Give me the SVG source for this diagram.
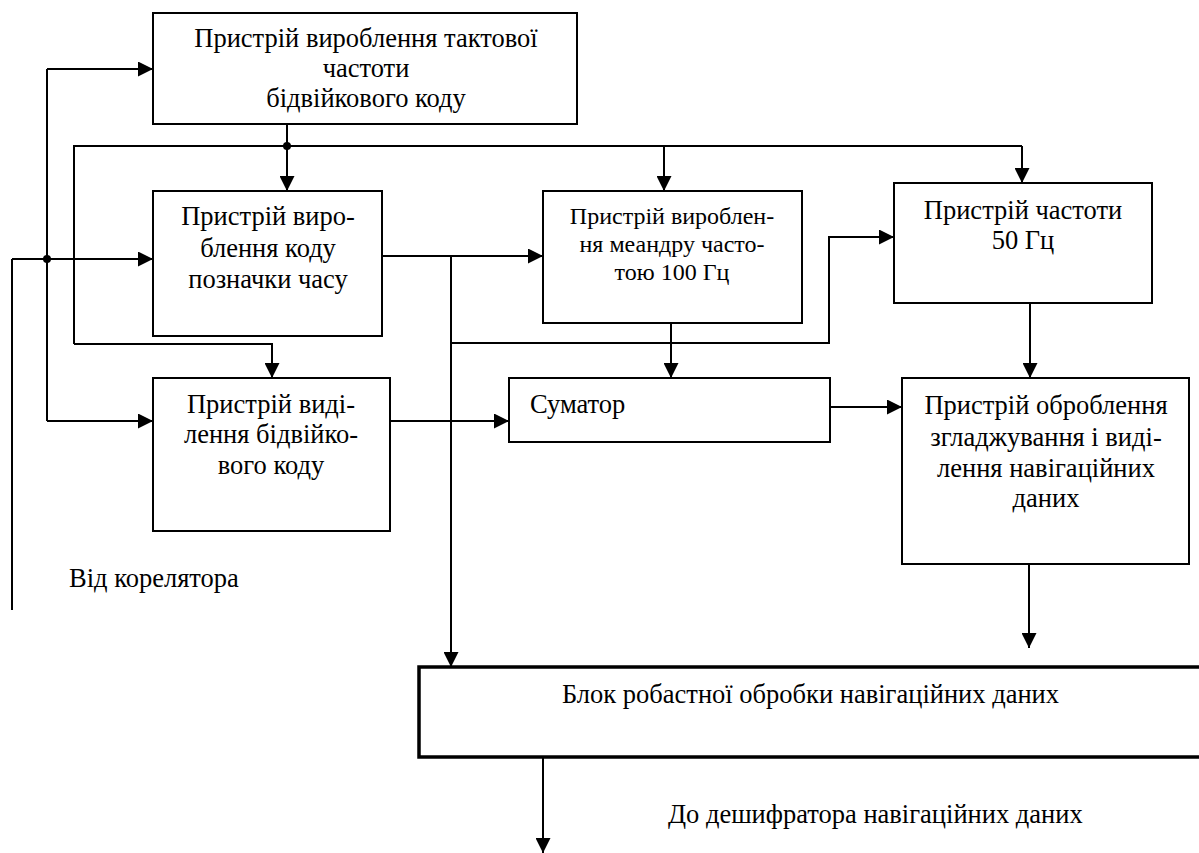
<svg xmlns="http://www.w3.org/2000/svg" width="1199" height="853" viewBox="0 0 1199 853">
<style>
.box{fill:#fff;stroke:#000;stroke-width:2}
.thick{fill:#fff;stroke:#000;stroke-width:3.5}
.t{font-family:"Liberation Serif","Times New Roman",serif;font-size:26.5px;fill:#000}
.s{font-size:24px}
.c{text-anchor:middle}
.ln{fill:none;stroke:#000;stroke-width:2}
.ar{marker-end:url(#ah)}
</style>
<defs>
<marker id="ah" viewBox="0 0 16 16" refX="16" refY="8" markerWidth="16" markerHeight="15" orient="auto" markerUnits="userSpaceOnUse">
<path d="M0,0 L16,8 L0,16 Z" fill="#000"/>
</marker>
</defs>
<rect width="1199" height="853" fill="#fff"/>
<g id="connectors">
<path class="ln" d="M12,610 V259"/>
<path class="ln ar" d="M12,259 H153"/>
<path class="ln" d="M47,69 V421"/>
<path class="ln ar" d="M47,69 H153"/>
<path class="ln ar" d="M47,421 H153"/>
<path class="ln ar" d="M287,124 V191"/>
<path class="ln" d="M74,344 V146 H1022"/>
<path class="ln ar" d="M1022,146 V183"/>
<path class="ln ar" d="M664,146 V191"/>
<path class="ln ar" d="M74,344 H272 V378"/>
<path class="ln ar" d="M382,256 H543"/>
<path class="ln ar" d="M451,256 V667"/>
<path class="ln ar" d="M451,343 H829 V237 H894"/>
<path class="ln ar" d="M671,323 V378"/>
<path class="ln ar" d="M390,421 H509"/>
<path class="ln ar" d="M830,407 H902"/>
<path class="ln ar" d="M1030,303 V378"/>
<path class="ln ar" d="M1029,564 V648"/>
<path class="ln ar" d="M543,757 V853"/>
<circle cx="287" cy="146" r="4" fill="#000"/>
<circle cx="47" cy="259" r="4" fill="#000"/>
</g>
<g id="clock">
<rect class="box" x="153" y="13" width="424" height="111"/>
<text class="t c" x="366" y="47">Пристрій вироблення тактової</text>
<text class="t c" x="366" y="77">частоти</text>
<text class="t c" x="366" y="107">бідвійкового коду</text>
</g>
<g id="timecode">
<rect class="box" x="153" y="191" width="229" height="145"/>
<text class="t c" x="268" y="225">Пристрій виро-</text>
<text class="t c" x="268" y="257">блення коду</text>
<text class="t c" x="268" y="288">позначки часу</text>
</g>
<g id="extract">
<rect class="box" x="153" y="378" width="237" height="153"/>
<text class="t c" x="271" y="413">Пристрій виді-</text>
<text class="t c" x="271" y="443">лення бідвійко-</text>
<text class="t c" x="271" y="474">вого коду</text>
</g>
<g id="meander">
<rect class="box" x="543" y="191" width="259" height="132"/>
<text class="t s c" x="672" y="224">Пристрій вироблен-</text>
<text class="t s c" x="672" y="252">ня меандру часто-</text>
<text class="t s c" x="672" y="280">тою 100 Гц</text>
</g>
<g id="freq50">
<rect class="box" x="894" y="183" width="258" height="120"/>
<text class="t c" x="1023" y="219">Пристрій частоти</text>
<text class="t c" x="1023" y="249">50 Гц</text>
</g>
<g id="summator">
<rect class="box" x="509" y="378" width="321" height="64"/>
<text class="t" x="530" y="413">Суматор</text>
</g>
<g id="processing">
<rect class="box" x="902" y="378" width="287" height="186"/>
<text class="t c" x="1046" y="414">Пристрій оброблення</text>
<text class="t c" x="1046" y="446">згладжування і виді-</text>
<text class="t c" x="1046" y="477">лення навігаційних</text>
<text class="t c" x="1046" y="507">даних</text>
</g>
<g id="robust">
<rect class="thick" x="419" y="667" width="790" height="90"/>
<text class="t" x="562" y="703">Блок робастної обробки навігаційних даних</text>
</g>
<g id="labels">
<text class="t" x="69" y="587">Від корелятора</text>
<text class="t" x="668" y="823">До дешифратора навігаційних даних</text>
</g>
</svg>
